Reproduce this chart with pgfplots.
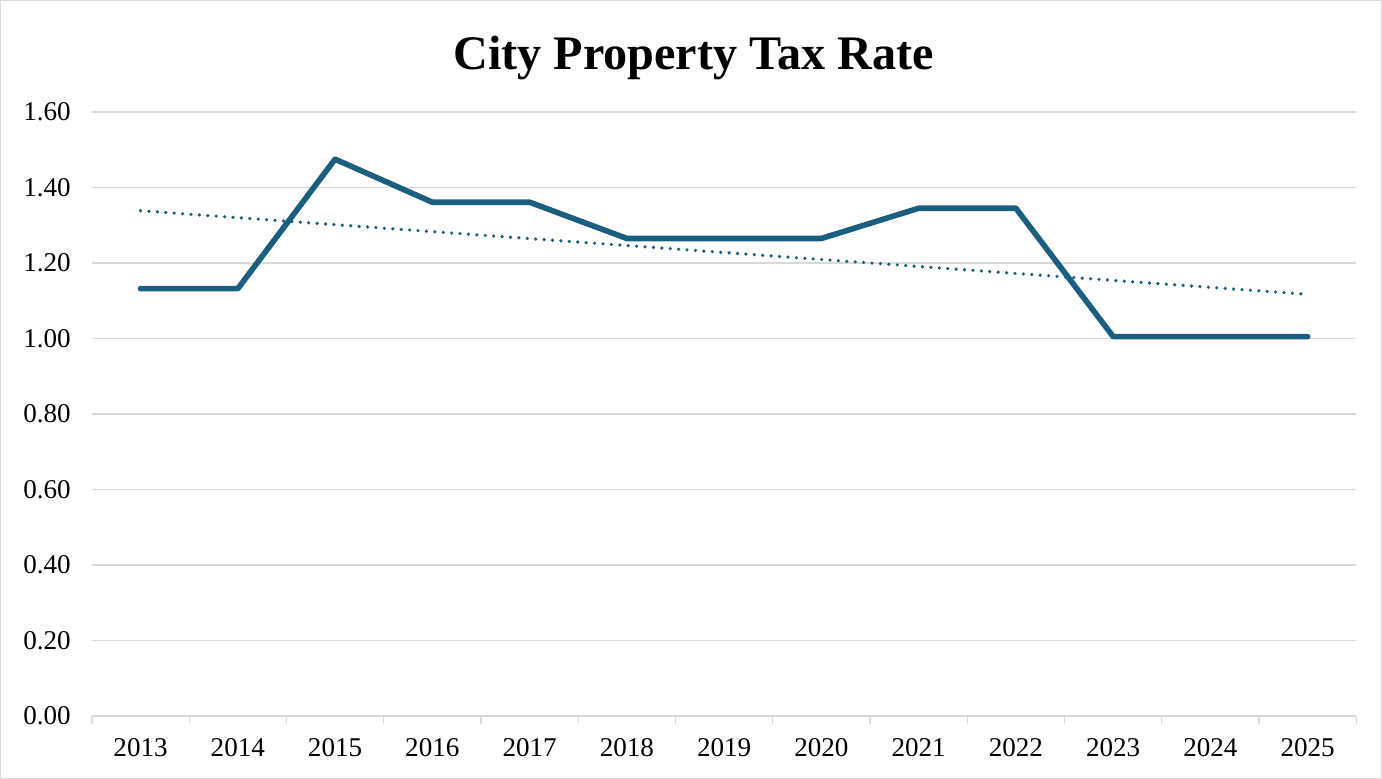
\documentclass[border=0pt]{standalone}
\usepackage{fontspec}
\setmainfont{Liberation Serif}
\usepackage{pgfplots}
\pgfplotsset{compat=1.18}
\definecolor{rateBlue}{HTML}{1A5E80}
\definecolor{gridGray}{HTML}{D9D9D9}

\begin{document}
\begin{tikzpicture}
\begin{axis}[
  scale only axis,
  width=630pt, height=301pt,
  xmin=-0.5, xmax=12.5,
  ymin=0, ymax=1.6,
  clip=false,
  xtick={0,...,12},
  xticklabels={2013,2014,2015,2016,2017,2018,2019,2020,2021,2022,2023,2024,2025},
  minor xtick={-0.5,0.5,...,12.5},
  ytick={0,0.2,...,1.6},
  major tick length=0pt,
  minor tick length=4pt,
  tick align=outside,
  minor tick style={gridGray, line width=0.6pt},
  axis x line*=bottom,
  axis y line*=left,
  x axis line style={gridGray, line width=0.6pt, -},
  y axis line style={draw=none},
  ymajorgrids,
  major grid style={gridGray, line width=0.6pt},
  /pgf/number format/assume math mode=true,
  yticklabel={\pgfmathprintnumber[fixed, fixed zerofill, precision=2]{\tick}},
  tick label style={font=\fontsize{13.5pt}{16pt}\selectfont},
  yticklabel style={xshift=-7pt},
  xticklabel style={yshift=-7.5pt},
]
\addplot[rateBlue, line width=2.8pt, line cap=round, line join=round] coordinates {
  (0,1.132) (1,1.132) (2,1.475) (3,1.361) (4,1.361) (5,1.265) (6,1.265)
  (7,1.265) (8,1.345) (9,1.345) (10,1.005) (11,1.005) (12,1.005)
};
% linear trend
\addplot[rateBlue, line width=1.8pt, line cap=round, dash pattern=on 0pt off 4.2pt] coordinates {
  (0,1.3385) (12,1.117)
};
\draw[gridGray, line width=0.6pt] ([xshift=-45.5pt,yshift=-31pt]rel axis cs:0,0) rectangle ([xshift=12.5pt,yshift=55.5pt]rel axis cs:1,1);
\node[anchor=base, font=\fontsize{24pt}{29pt}\selectfont\bfseries] at ([xshift=299.75pt,yshift=322pt]rel axis cs:0,0) {City Property Tax Rate};
\end{axis}
\end{tikzpicture}
\end{document}
